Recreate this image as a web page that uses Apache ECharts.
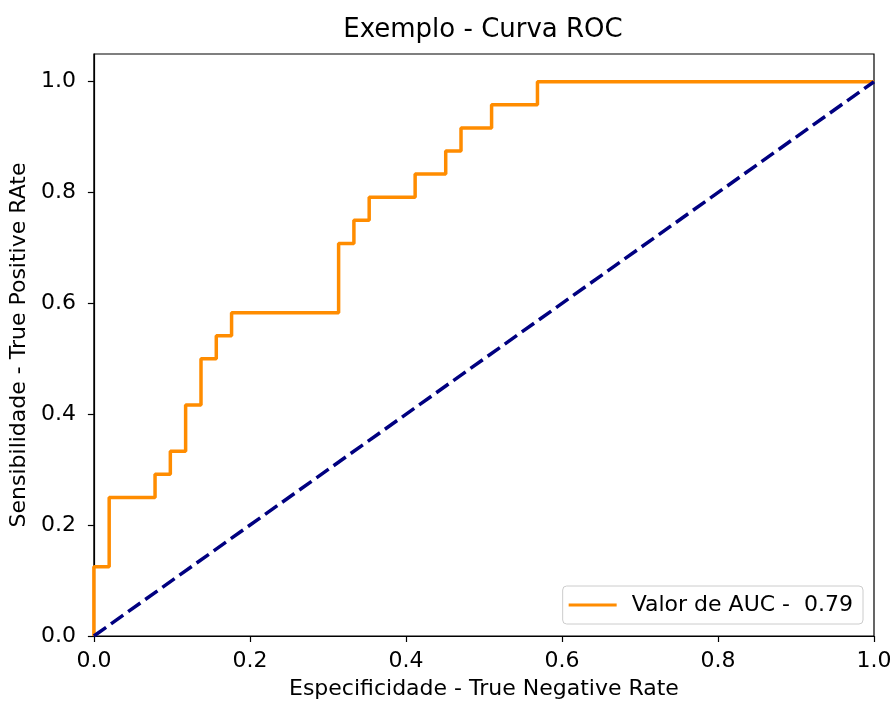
<!DOCTYPE html>
<html>
<head>
    <meta charset="utf-8">
    <title>Exemplo - Curva ROC</title>
    <style type="text/css">
        body {
            margin: 0;
            background: #fff;
        }
        html, body, #roc-chart {
            width: 895px;
            height: 706px;
        }
    </style>
</head>
<body>

    <div id="roc-chart"></div>
    <script src="https://cdn.jsdelivr.net/npm/echarts@6/dist/echarts.min.js"></script>

    <script>
        // pontos da curva ROC (cantos dos degraus)
        var fpr = [0, 0, 0.0196, 0.0196, 0.0784, 0.0784, 0.098, 0.098, 0.1176, 0.1176,
            0.1373, 0.1373, 0.1569, 0.1569, 0.1765, 0.1765, 0.3137, 0.3137, 0.3333, 0.3333,
            0.3529, 0.3529, 0.4118, 0.4118, 0.451, 0.451, 0.4706, 0.4706, 0.5098, 0.5098,
            0.5686, 0.5686, 1];
        var tpr = [0, 0.125, 0.125, 0.25, 0.25, 0.2917, 0.2917, 0.3333, 0.3333, 0.4167,
            0.4167, 0.5, 0.5, 0.5417, 0.5417, 0.5833, 0.5833, 0.7083, 0.7083, 0.75,
            0.75, 0.7917, 0.7917, 0.8333, 0.8333, 0.875, 0.875, 0.9167, 0.9167, 0.9583,
            0.9583, 1, 1];
        var diagX = [0, 1];
        var diagY = [0, 1];
        var yTicks = [0, 0.2, 0.4, 0.6, 0.8, 1.0];
        var aucLabel = 'Valor de AUC -  0.79';

        function pairs(xs, ys) {
            var out = [];
            for (var i = 0; i < xs.length; i++) {
                out.push([xs[i], ys[i]]);
            }
            return out;
        }

        var font = 'DejaVu Sans';
        var chart = echarts.init(document.getElementById('roc-chart'), null, {renderer: 'canvas'});

        chart.setOption({
            animation: false,
            textStyle: {fontFamily: font},
            title: {
                text: 'Exemplo - Curva ROC',
                left: 483,
                textAlign: 'center',
                top: 17,
                padding: 0,
                textStyle: {fontFamily: font, fontSize: 26, fontWeight: 'normal', color: '#000'}
            },
            grid: {
                left: 93,
                right: 21,
                top: 54,
                bottom: 70,
                show: true,
                borderColor: '#000',
                borderWidth: 1.2
            },
            legend: {
                data: [aucLabel],
                right: 32,
                bottom: 82,
                icon: 'rect',
                itemWidth: 48,
                itemHeight: 3,
                padding: [8, 10, 8, 6],
                backgroundColor: '#fff',
                borderColor: '#ccc',
                borderWidth: 1,
                borderRadius: 4,
                textStyle: {fontFamily: font, fontSize: 22, color: '#000', padding: [0, 0, 0, 10]}
            },
            xAxis: {
                type: 'value',
                min: 0,
                max: 1,
                interval: 0.2,
                name: 'Especificidade - True Negative Rate',
                nameLocation: 'middle',
                nameGap: 42,
                nameTextStyle: {fontFamily: font, fontSize: 22, color: '#000'},
                axisLine: {show: true, lineStyle: {color: '#000', width: 1.2}},
                axisTick: {show: true, length: 6, lineStyle: {color: '#000', width: 1.2}},
                axisLabel: {
                    margin: 14,
                    fontFamily: font,
                    fontSize: 22,
                    color: '#000',
                    formatter: function (v) { return v.toFixed(1); }
                },
                splitLine: {show: false}
            },
            yAxis: {
                type: 'value',
                min: 0,
                max: 1.05,
                name: 'Sensibilidade - True Positive RAte',
                nameLocation: 'middle',
                nameGap: 62,
                nameTextStyle: {fontFamily: font, fontSize: 22, color: '#000'},
                axisLine: {show: true, lineStyle: {color: '#000', width: 1.2}},
                axisTick: {show: true, length: 6, customValues: yTicks, lineStyle: {color: '#000', width: 1.2}},
                axisLabel: {
                    margin: 18,
                    fontFamily: font,
                    fontSize: 22,
                    color: '#000',
                    customValues: yTicks,
                    formatter: function (v) { return v.toFixed(1); }
                },
                splitLine: {show: false}
            },
            series: [
                {
                    name: aucLabel,
                    type: 'line',
                    data: pairs(fpr, tpr),
                    showSymbol: false,
                    symbol: 'none',
                    color: '#ff8c00',
                    lineStyle: {color: '#ff8c00', width: 3.5},
                    z: 2
                },
                {
                    name: 'aleatorio',
                    type: 'line',
                    data: pairs(diagX, diagY),
                    showSymbol: false,
                    symbol: 'none',
                    lineStyle: {color: '#000080', width: 3.5, type: [15, 6], cap: 'butt'},
                    z: 3
                }
            ]
        });

        window.addEventListener('resize', function () {
            chart.resize();
        });
    </script>
</body>
</html>
